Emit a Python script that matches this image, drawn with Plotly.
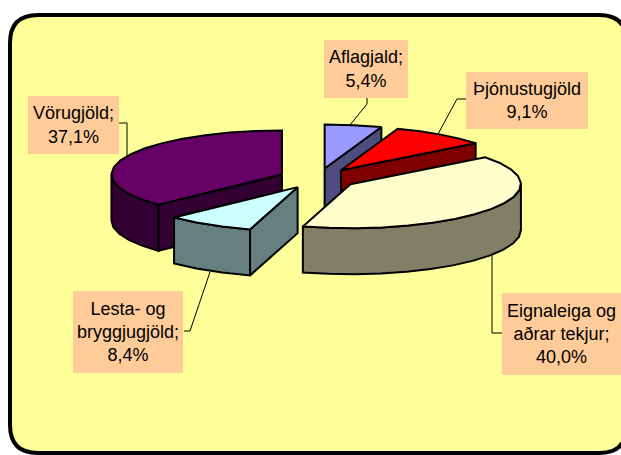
import math
import plotly.graph_objects as go

# --- data ---
categories = ["Aflagjald", "Þjónustugjöld", "Eignaleiga og aðrar tekjur", "Lesta- og bryggjugjöld", "Vörugjöld"]
shares = [5.4, 9.1, 40.0, 8.4, 37.1]
share_labels = ["5,4%", "9,1%", "40,0%", "8,4%", "37,1%"]

# --- styling ---
label_lines = [["Aflagjald;", "5,4%"], ["Þjónustugjöld", "9,1%"], ["Eignaleiga og", "aðrar tekjur;", "40,0%"],
               ["Lesta- og", "bryggjugjöld;", "8,4%"], ["Vörugjöld;", "37,1%"]]
top_colors = ["#9999FF", "#FF0000", "#FFFFCC", "#CCFFFF", "#660066"]
side_colors = ["#4D4D80", "#800000", "#808066", "#668080", "#330033"]
boxes = [(324, 40, 408, 98), (466, 72, 588, 129), (502, 293, 621, 375), (73, 291, 183, 373), (28, 96, 119, 154)]
leaders = [
    [(367, 98), (367, 104), (350, 125)],
    [(466, 99), (457, 99), (438, 134)],
    [(502, 333), (492, 333), (492, 255)],
    [(184, 331), (190, 331), (210, 272)],
    [(119, 123), (127, 123), (127, 157)],
]
CX, CY, RX, RY, DEPTH, EXPLODE, STEP = 318, 178.5, 170.5, 44, 46, 0.23, 9


def pt(theta, ox, oy, dz=0):
    r = math.radians(theta)
    return ox + RX * math.sin(r), oy - RY * math.cos(r) + dz


def arc(a, b, ox, oy, dz=0):
    n = max(1, int(round((b - a) / STEP)))
    return [pt(a + (b - a) * i / n, ox, oy, dz) for i in range(n + 1)]


def poly(points, fill):
    xs = [p[0] for p in points] + [points[0][0]]
    ys = [p[1] for p in points] + [points[0][1]]
    return go.Scatter(x=xs, y=ys, mode="lines", fill="toself", fillcolor=fill,
                      line=dict(color="black", width=2), hoverinfo="skip", showlegend=False)


fig = go.Figure()

for seg in leaders:
    fig.add_trace(go.Scatter(x=[p[0] for p in seg], y=[p[1] for p in seg], mode="lines",
                             line=dict(color="black", width=1), hoverinfo="skip", showlegend=False))

total = sum(shares)
slices = []
start = 0.0
for i, v in enumerate(shares):
    end = start + 360 * v / total
    slices.append((i, start, end))
    start = end

for i, a, b in sorted(slices, key=lambda s: -math.cos(math.radians((s[1] + s[2]) / 2))):
    mid = math.radians((a + b) / 2)
    ox = CX + EXPLODE * RX * math.sin(mid)
    oy = CY - EXPLODE * RY * math.cos(mid)
    apex = (ox, oy)
    apex_low = (ox, oy + DEPTH)
    # cut faces that look toward the viewer
    if math.sin(math.radians(a)) < -1e-6:
        fig.add_trace(poly([apex, pt(a, ox, oy), pt(a, ox, oy, DEPTH), apex_low], side_colors[i]))
    if math.sin(math.radians(b)) > 1e-6:
        fig.add_trace(poly([apex, pt(b, ox, oy), pt(b, ox, oy, DEPTH), apex_low], side_colors[i]))
    # outer wall
    lo, hi = max(a, 90), min(b, 270)
    if hi > lo:
        upper = arc(lo, hi, ox, oy)
        lower = arc(lo, hi, ox, oy, DEPTH)
        fig.add_trace(poly(upper + lower[::-1], side_colors[i]))
    # top surface
    fig.add_trace(poly([apex] + arc(a, b, ox, oy), top_colors[i]))

# rounded chart frame
x0, y0, x1, y1, r = 10, 15, 627, 453, 28
frame = (f"M{x0 + r},{y0} L{x1 - r},{y0} Q{x1},{y0} {x1},{y0 + r} L{x1},{y1 - r} Q{x1},{y1} {x1 - r},{y1} "
         f"L{x0 + r},{y1} Q{x0},{y1} {x0},{y1 - r} L{x0},{y0 + r} Q{x0},{y0} {x0 + r},{y0} Z")
shapes = [dict(type="path", path=frame, xref="x", yref="y", fillcolor="#FFFF99",
               line=dict(color="black", width=4), layer="below")]
annotations = []
for lines, (bx0, by0, bx1, by1) in zip(label_lines, boxes):
    annotations.append(dict(
        x=(bx0 + bx1) / 2, y=(by0 + by1) / 2, xref="x", yref="y", xanchor="center", yanchor="middle",
        text="<br>".join(lines), showarrow=False, align="center", valign="middle",
        width=bx1 - bx0, height=by1 - by0, bgcolor="#FFCC99", borderpad=0, borderwidth=0,
        font=dict(family="Liberation Sans, Arial, sans-serif", size=18, color="#000000")))

fig.update_layout(
    width=621, height=455, margin=dict(l=0, r=0, t=0, b=0), autosize=False,
    paper_bgcolor="white", plot_bgcolor="rgba(0,0,0,0)", showlegend=False,
    xaxis=dict(range=[0, 621], visible=False, fixedrange=True),
    yaxis=dict(range=[455, 0], visible=False, fixedrange=True),
    shapes=shapes, annotations=annotations,
)
fig.write_html("out.html", config={"displayModeBar": False},
               post_script="document.body.style.margin='0';document.documentElement.style.overflow='hidden';")
